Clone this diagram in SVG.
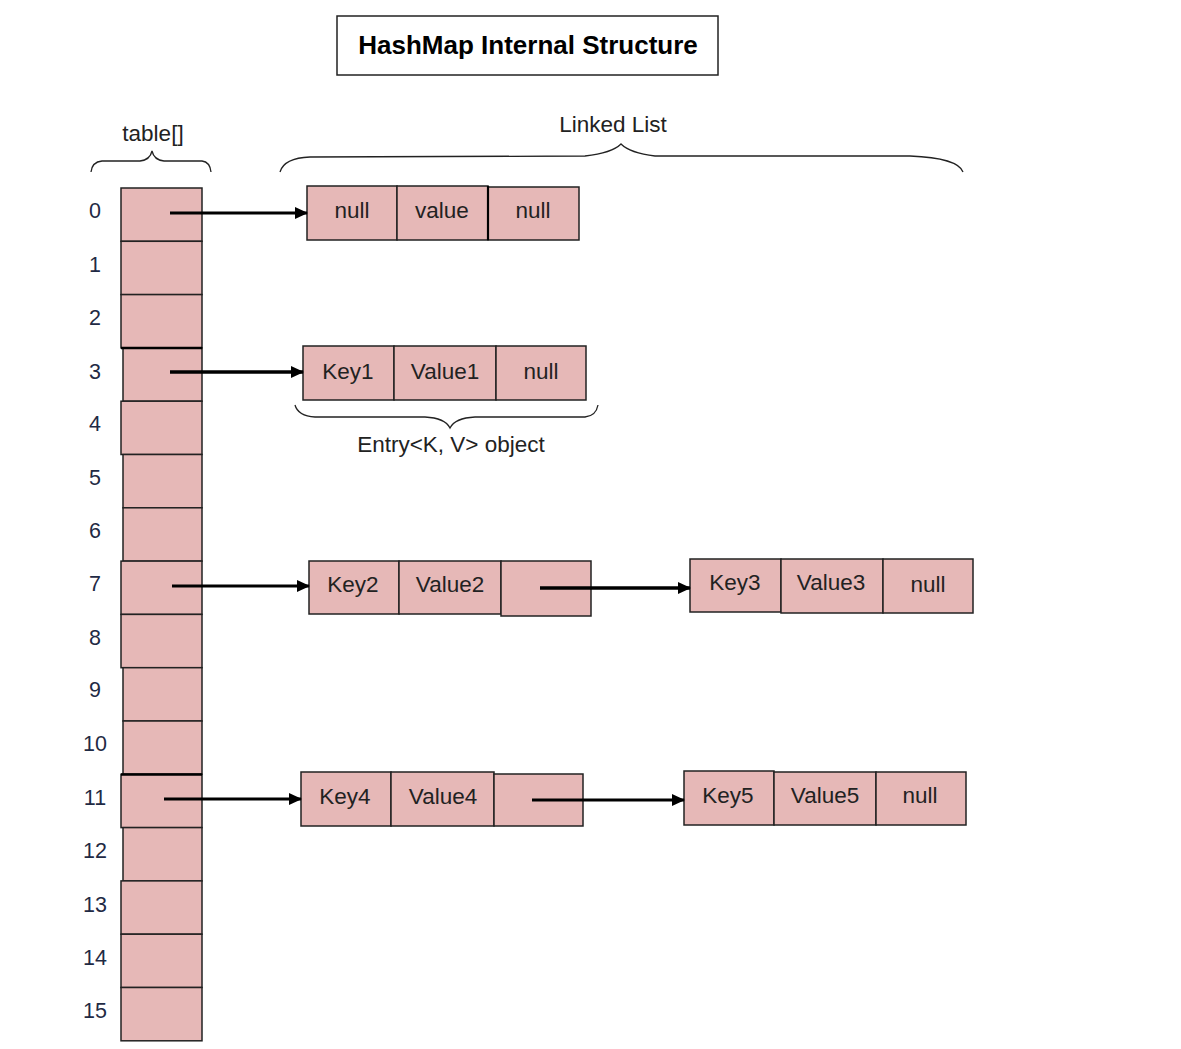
<svg xmlns="http://www.w3.org/2000/svg" width="1181" height="1049" viewBox="0 0 1181 1049">
<style>
.c{fill:#e6b8b7;stroke:#222;stroke-width:1.5}
.t{font-family:"Liberation Sans",Arial,sans-serif;font-size:22.5px;fill:#222;text-anchor:middle}
.n{font-family:"Liberation Sans",Arial,sans-serif;font-size:21.5px;fill:#1f2a44;text-anchor:middle}
.b{fill:none;stroke:#222;stroke-width:1.3}
.a{stroke:#000;stroke-width:2.8;fill:none}
</style>
<defs>
<marker id="ah" markerWidth="13" markerHeight="12" refX="12" refY="6" orient="auto" markerUnits="userSpaceOnUse" viewBox="0 0 13 12">
<path d="M0,0 L13,6 L0,12 z" fill="#000"/>
</marker>
</defs>
<rect width="1181" height="1049" fill="#fff"/>
<g id="title">
<rect x="337" y="16" width="381" height="59" fill="#fff" stroke="#222" stroke-width="1.5"/>
<text x="528" y="54" font-family="Liberation Sans,Arial,sans-serif" font-size="26" font-weight="bold" text-anchor="middle" fill="#000">HashMap Internal Structure</text>
</g>
<g id="labels">
<text class="t" x="153" y="141">table[]</text>
<path class="b" d="M91,172 Q92,162 102,161 L140,161 Q150,160 152,151 Q154,160 164,161 L202,161 Q210,162 211,172"/>
<text class="t" x="613" y="132">Linked List</text>
<path class="b" d="M280,172 Q284,158 310,157 L585,156 Q612,153 621,144 Q630,153 655,156 L910,156 Q958,158 963,172"/>
<path class="b" d="M295,405 Q298,416 315,417 L425,417 Q445,418 450,428 Q455,418 475,417 L585,417 Q596,416 598,405"/>
<text class="t" x="451" y="452">Entry&lt;K, V&gt; object</text>
</g>
<g id="table">
<rect class="c" x="121" y="188" width="81" height="53.3"/>
<rect class="c" x="121" y="241.3" width="81" height="53.3"/>
<rect class="c" x="121" y="294.6" width="81" height="53.3"/>
<rect class="c" x="123" y="347.9" width="79" height="53.3"/>
<rect class="c" x="121" y="401.2" width="81" height="53.3"/>
<rect class="c" x="123" y="454.5" width="79" height="53.3"/>
<rect class="c" x="123" y="507.8" width="79" height="53.3"/>
<rect class="c" x="121" y="561.1" width="81" height="53.3"/>
<rect class="c" x="121" y="614.4" width="81" height="53.3"/>
<rect class="c" x="123" y="667.7" width="79" height="53.3"/>
<rect class="c" x="123" y="721" width="79" height="53.3"/>
<rect class="c" x="121" y="774.3" width="81" height="53.3"/>
<rect class="c" x="123" y="827.6" width="79" height="53.3"/>
<rect class="c" x="121" y="880.9" width="81" height="53.3"/>
<rect class="c" x="121" y="934.2" width="81" height="53.3"/>
<rect class="c" x="121" y="987.5" width="81" height="53.3"/>
<line x1="121" y1="348" x2="202" y2="348" stroke="#000" stroke-width="2.5"/>
<line x1="121" y1="774.5" x2="202" y2="774.5" stroke="#000" stroke-width="2.5"/>
<text class="n" x="95" y="218">0</text>
<text class="n" x="95" y="272">1</text>
<text class="n" x="95" y="325">2</text>
<text class="n" x="95" y="379">3</text>
<text class="n" x="95" y="431">4</text>
<text class="n" x="95" y="485">5</text>
<text class="n" x="95" y="538">6</text>
<text class="n" x="95" y="591">7</text>
<text class="n" x="95" y="645">8</text>
<text class="n" x="95" y="697">9</text>
<text class="n" x="95" y="751">10</text>
<text class="n" x="95" y="805">11</text>
<text class="n" x="95" y="858">12</text>
<text class="n" x="95" y="912">13</text>
<text class="n" x="95" y="965">14</text>
<text class="n" x="95" y="1018">15</text>
</g>
<g id="entry0">
<rect class="c" x="307" y="186" width="90" height="54"/>
<rect class="c" x="397" y="186" width="91" height="54"/>
<rect class="c" x="488" y="187" width="91" height="53"/>
<line x1="488" y1="186" x2="488" y2="240" stroke="#000" stroke-width="2.2"/>
<text class="t" x="352" y="218">null</text>
<text class="t" x="442" y="218">value</text>
<text class="t" x="533" y="218">null</text>
</g>
<g id="entry1">
<rect class="c" x="303" y="346" width="91" height="54"/>
<rect class="c" x="394" y="346" width="102" height="54"/>
<rect class="c" x="496" y="346" width="90" height="54"/>
<text class="t" x="348" y="379">Key1</text>
<text class="t" x="445" y="379">Value1</text>
<text class="t" x="541" y="379">null</text>
</g>
<g id="entry2">
<rect class="c" x="309" y="561" width="90" height="53"/>
<rect class="c" x="399" y="561" width="102" height="53"/>
<rect class="c" x="501" y="561" width="90" height="55"/>
<text class="t" x="353" y="592">Key2</text>
<text class="t" x="450" y="592">Value2</text>
</g>
<g id="entry3">
<rect class="c" x="690" y="559" width="91" height="53"/>
<rect class="c" x="781" y="559" width="102" height="54"/>
<rect class="c" x="883" y="559" width="90" height="54"/>
<text class="t" x="735" y="590">Key3</text>
<text class="t" x="831" y="590">Value3</text>
<text class="t" x="928" y="592">null</text>
</g>
<g id="entry4">
<rect class="c" x="301" y="772" width="90" height="54"/>
<rect class="c" x="391" y="772" width="103" height="54"/>
<rect class="c" x="494" y="774" width="89" height="52"/>
<text class="t" x="345" y="804">Key4</text>
<text class="t" x="443" y="804">Value4</text>
</g>
<g id="entry5">
<rect class="c" x="684" y="771" width="90" height="54"/>
<rect class="c" x="774" y="772" width="102" height="53"/>
<rect class="c" x="876" y="772" width="90" height="53"/>
<text class="t" x="728" y="803">Key5</text>
<text class="t" x="825" y="803">Value5</text>
<text class="t" x="920" y="803">null</text>
</g>
<g id="connectors">
<line class="a" x1="170" y1="213" x2="307" y2="213" marker-end="url(#ah)"/>
<line class="a" x1="170" y1="372" x2="303" y2="372" style="stroke-width:3.4" marker-end="url(#ah)"/>
<line class="a" x1="172" y1="586" x2="309" y2="586" marker-end="url(#ah)"/>
<line class="a" x1="540" y1="588" x2="690" y2="588" style="stroke-width:3.4" marker-end="url(#ah)"/>
<line class="a" x1="164" y1="799" x2="301" y2="799" marker-end="url(#ah)"/>
<line class="a" x1="532" y1="800" x2="684" y2="800" marker-end="url(#ah)"/>
</g>
</svg>
